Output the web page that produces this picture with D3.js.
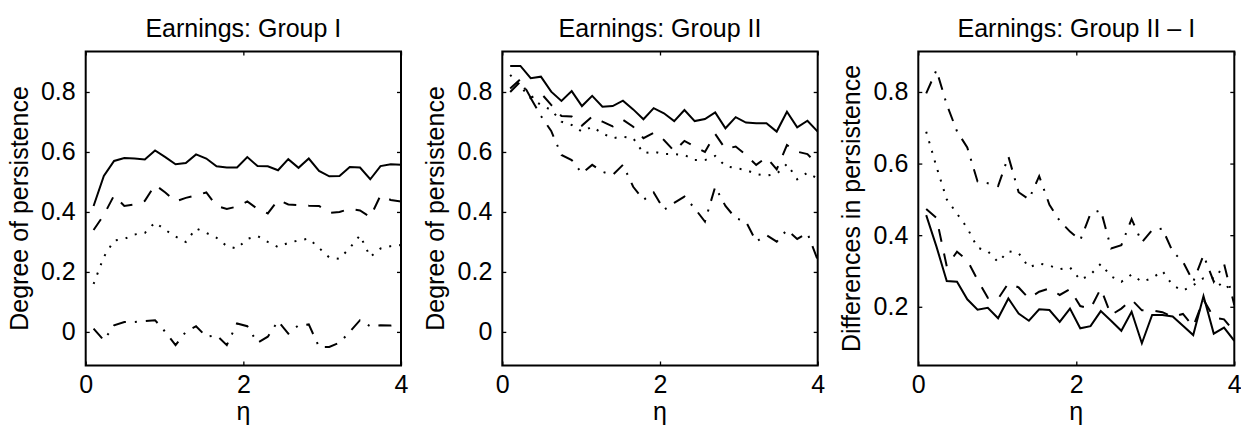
<!DOCTYPE html>
<html>
<head>
<meta charset="utf-8">
<script src="https://cdn.jsdelivr.net/npm/d3@7/dist/d3.min.js"></script>
<style>
  html, body { margin: 0; padding: 0; background: #fff; }
  svg { display: block; }
  text { font-family: "Liberation Sans", Arial, Helvetica, sans-serif; fill: #000; }
</style>
</head>
<body>
<svg id="chart" width="1241" height="430"></svg>
<script>
// Grid of eta values shared by all panels
const eta = [0.10, 0.23, 0.36, 0.49, 0.62, 0.75, 0.88, 1.01, 1.14, 1.27, 1.40,
             1.53, 1.66, 1.79, 1.92, 2.05, 2.18, 2.31, 2.44, 2.57, 2.70, 2.83,
             2.96, 3.09, 3.22, 3.35, 3.48, 3.61, 3.74, 3.87, 4.00];

// Group I: degree of persistence, four specifications
const groupI_solid   = [0.42, 0.52, 0.57, 0.58, 0.578, 0.575, 0.605, 0.583, 0.559, 0.563, 0.592,
                        0.578, 0.552, 0.548, 0.548, 0.583, 0.553, 0.552, 0.539, 0.576, 0.547, 0.578,
                        0.537, 0.519, 0.52, 0.55, 0.548, 0.509, 0.553, 0.559, 0.557];
const groupI_dashed  = [0.34, 0.39, 0.455, 0.42, 0.425, 0.437, 0.49, 0.465, 0.435, 0.447, 0.455,
                        0.465, 0.42, 0.41, 0.418, 0.435, 0.41, 0.395, 0.44, 0.425, 0.423, 0.421,
                        0.42, 0.397, 0.40, 0.41, 0.405, 0.383, 0.455, 0.44, 0.435];
const groupI_dotted  = [0.16, 0.25, 0.305, 0.31, 0.325, 0.33, 0.365, 0.34, 0.318, 0.30, 0.345,
                        0.33, 0.314, 0.286, 0.278, 0.31, 0.32, 0.30, 0.283, 0.297, 0.305, 0.311,
                        0.28, 0.248, 0.244, 0.28, 0.322, 0.25, 0.278, 0.286, 0.29];
const groupI_dashdot = [0.011, -0.028, 0.022, 0.033, 0.033, 0.036, 0.039, 0.0, -0.044, 0.0, 0.019,
                        -0.016, -0.011, -0.044, 0.028, 0.019, -0.036, -0.016, 0.036, -0.006, 0.022, 0.025,
                        -0.05, -0.05, -0.036, 0.0, 0.039, 0.019, 0.022, 0.021, 0.02];

// Group II: degree of persistence
const groupII_solid   = [0.887, 0.887, 0.846, 0.851, 0.801, 0.770, 0.803, 0.753, 0.787, 0.751, 0.753,
                         0.771, 0.742, 0.709, 0.746, 0.729, 0.703, 0.740, 0.703, 0.710, 0.732, 0.679,
                         0.716, 0.698, 0.696, 0.696, 0.668, 0.734, 0.682, 0.704, 0.668];
const groupII_dashed  = [0.812, 0.843, 0.781, 0.796, 0.757, 0.72, 0.718, 0.688, 0.718, 0.701, 0.685,
                         0.707, 0.684, 0.646, 0.664, 0.64, 0.603, 0.637, 0.618, 0.60, 0.66, 0.61,
                         0.618, 0.59, 0.557, 0.582, 0.542, 0.623, 0.601, 0.593, 0.557];
const groupII_dotted  = [0.857, 0.818, 0.779, 0.757, 0.74, 0.701, 0.69, 0.668, 0.684, 0.662, 0.646,
                         0.651, 0.646, 0.596, 0.601, 0.593, 0.593, 0.59, 0.573, 0.573, 0.587, 0.553,
                         0.546, 0.54, 0.526, 0.521, 0.527, 0.56, 0.509, 0.531, 0.511];
const groupII_dashdot = [0.80, 0.835, 0.78, 0.72, 0.67, 0.59, 0.573, 0.529, 0.557, 0.534, 0.523,
                         0.557, 0.484, 0.44, 0.465, 0.407, 0.43, 0.451, 0.412, 0.368, 0.484, 0.42,
                         0.379, 0.368, 0.301, 0.323, 0.301, 0.34, 0.31, 0.329, 0.24];

// Difference II - I in persistence
const diff_solid   = [0.456, 0.368, 0.272, 0.270, 0.221, 0.192, 0.197, 0.168, 0.223, 0.181, 0.161,
                      0.193, 0.191, 0.158, 0.195, 0.14, 0.146, 0.188, 0.161, 0.133, 0.186, 0.098,
                      0.177, 0.177, 0.173, 0.147, 0.121, 0.23, 0.125, 0.142, 0.105];
const diff_dashed  = [0.473, 0.448, 0.313, 0.354, 0.33, 0.275, 0.225, 0.222, 0.266, 0.254, 0.223,
                      0.242, 0.251, 0.233, 0.249, 0.202, 0.195, 0.251, 0.177, 0.195, 0.22, 0.19,
                      0.19, 0.185, 0.172, 0.18, 0.145, 0.22, 0.17, 0.165, 0.13];
const diff_dotted  = [0.689, 0.591, 0.50, 0.46, 0.42, 0.365, 0.355, 0.325, 0.355, 0.35, 0.31,
                      0.321, 0.315, 0.305, 0.31, 0.275, 0.29, 0.32, 0.285, 0.27, 0.29, 0.27,
                      0.28, 0.30, 0.26, 0.245, 0.26, 0.28, 0.28, 0.25, 0.265];
const diff_dashdot = [0.796, 0.861, 0.765, 0.69, 0.645, 0.55, 0.545, 0.537, 0.62, 0.52, 0.50,
                      0.565, 0.485, 0.44, 0.41, 0.386, 0.46, 0.47, 0.363, 0.372, 0.445, 0.38,
                      0.414, 0.418, 0.354, 0.326, 0.27, 0.344, 0.27, 0.32, 0.205];

// Tick values and labels
const xTicks = [0, 2, 4];
const xTickLabels = ["0", "2", "4"];
const yTicksLevel = [0, 0.2, 0.4, 0.6, 0.8];
const yTickLabelsLevel = ["0", "0.2", "0.4", "0.6", "0.8"];
const yTicksDiff = [0.2, 0.4, 0.6, 0.8];
const yTickLabelsDiff = ["0.2", "0.4", "0.6", "0.8"];

const titles = ["Earnings: Group I", "Earnings: Group II", "Earnings: Group II \u2013 I"];
const yLabels = ["Degree of persistence", "Degree of persistence", "Differences in persistence"];
const xLabel = "\u03b7";

// Line styles, one per specification
const styles = [
  { dash: null },
  { dash: "13,12" },
  { dash: "2,8" },
  { dash: "13,9,2,9" }
];

const panels = [
  { x0: 85.7,  x1: 401.0,  yDomain: [-0.112, 0.935], yTicks: yTicksLevel, yLabelsTxt: yTickLabelsLevel,
    series: [groupI_solid, groupI_dashed, groupI_dotted, groupI_dashdot] },
  { x0: 502.3, x1: 817.7,  yDomain: [-0.112, 0.935], yTicks: yTicksLevel, yLabelsTxt: yTickLabelsLevel,
    series: [groupII_solid, groupII_dashed, groupII_dotted, groupII_dashdot] },
  { x0: 918.3, x1: 1234.3, yDomain: [0.036, 0.913], yTicks: yTicksDiff, yLabelsTxt: yTickLabelsDiff,
    series: [diff_solid, diff_dashed, diff_dotted, diff_dashdot] }
];

const plotTop = 51.5, plotBottom = 365.5;
const svg = d3.select("#chart");
const fontSize = 25;

panels.forEach((p, k) => {
  const x = d3.scaleLinear().domain([0, 4]).range([p.x0, p.x1]);
  const y = d3.scaleLinear().domain(p.yDomain).range([plotBottom, plotTop]);
  const g = svg.append("g");

  const clipId = "clip" + k;
  svg.append("clipPath").attr("id", clipId)
    .append("rect").attr("x", p.x0).attr("y", plotTop)
    .attr("width", p.x1 - p.x0).attr("height", plotBottom - plotTop);

  // Curves
  const line = d3.line().x((d, i) => x(eta[i])).y(d => y(d));
  const lines = g.append("g").attr("clip-path", `url(#${clipId})`);
  p.series.forEach((s, j) => {
    lines.append("path")
      .datum(s)
      .attr("d", line)
      .attr("fill", "none")
      .attr("stroke", "#000")
      .attr("stroke-width", 2)
      .attr("stroke-linejoin", "miter")
      .attr("stroke-dasharray", styles[j].dash);
  });

  // Axes with inward ticks on all four sides
  const fmtX = (d) => xTickLabels[xTicks.indexOf(d)];
  const fmtY = (d) => p.yLabelsTxt[p.yTicks.indexOf(d)];

  const axB = g.append("g").attr("transform", `translate(0,${plotBottom})`)
    .call(d3.axisBottom(x).tickValues(xTicks).tickFormat(fmtX).tickSize(-4).tickPadding(10));
  const axT = g.append("g").attr("transform", `translate(0,${plotTop})`)
    .call(d3.axisTop(x).tickValues(xTicks).tickFormat("").tickSize(-4));
  const axL = g.append("g").attr("transform", `translate(${p.x0},0)`)
    .call(d3.axisLeft(y).tickValues(p.yTicks).tickFormat(fmtY).tickSize(-4).tickPadding(10));
  const axR = g.append("g").attr("transform", `translate(${p.x1},0)`)
    .call(d3.axisRight(y).tickValues(p.yTicks).tickFormat("").tickSize(-4));

  [axB, axT, axL, axR].forEach(a => {
    a.select(".domain").remove();
    a.selectAll(".tick line").attr("stroke", "#000").attr("stroke-width", 1.3);
    a.selectAll(".tick text").attr("font-size", fontSize)
      .attr("font-family", "'Liberation Sans', Arial, Helvetica, sans-serif").attr("fill", "#000");
  });

  // Axes box
  g.append("rect")
    .attr("x", p.x0).attr("y", plotTop)
    .attr("width", p.x1 - p.x0).attr("height", plotBottom - plotTop)
    .attr("fill", "none").attr("stroke", "#000").attr("stroke-width", 2);

  // Title
  g.append("text")
    .attr("x", (p.x0 + p.x1) / 2).attr("y", 37)
    .attr("text-anchor", "middle").attr("font-size", fontSize)
    .text(titles[k]);

  // x label
  g.append("text")
    .attr("x", (p.x0 + p.x1) / 2).attr("y", 420)
    .attr("text-anchor", "middle").attr("font-size", fontSize)
    .text(xLabel);

  // y label
  const ly = (plotTop + plotBottom) / 2;
  const lx = p.x0 - 58;
  g.append("text")
    .attr("transform", `translate(${lx},${ly}) rotate(-90)`)
    .attr("text-anchor", "middle").attr("font-size", fontSize)
    .text(yLabels[k]);
});
</script>
</body>
</html>
